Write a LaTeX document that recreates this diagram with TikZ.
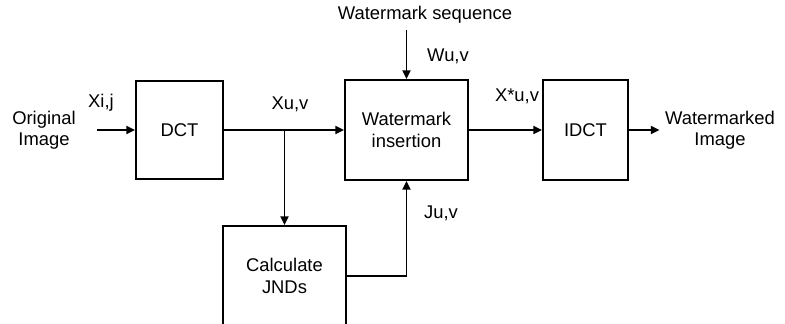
\documentclass[tikz,border=0pt]{standalone}
\usepackage{fontspec}
\setmainfont{Liberation Sans}
\usetikzlibrary{arrows.meta}
\definecolor{wmink}{HTML}{000000}

\begin{document}
\begin{tikzpicture}[x=0.75pt, y=-0.75pt, line cap=butt,
    font=\fontsize{13.8}{16}\selectfont,
    blk/.style={draw=wmink, line width=1.4pt, inner sep=0pt},
    txt/.style={align=center, inner sep=4pt},
    arr/.style={wmink, line width=1.4pt, -{Triangle[length=6.5pt, width=6pt]}}]
  \useasboundingbox (0,0) rectangle (785,324);
  \node[blk, minimum width=65.25pt, minimum height=73.5pt] (dct) at (179.5,130) {DCT};
  \node[blk, minimum width=92.25pt, minimum height=75pt, align=center] (wmins) at (406.5,130) {Watermark\\insertion};
  \node[blk, minimum width=63.75pt, minimum height=75pt] (idct) at (585.5,130) {IDCT};
  \node[blk, minimum width=92.25pt, minimum height=75pt, align=center] (jnd) at (284.5,276) {Calculate\\JNDs};
  \node[txt] (orig) at (44,130) {Original\\Image};
  \node[txt] (wmimg) at (720,130) {Watermarked\\Image};
  \node[txt] (wseq) at (425,15) {Watermark sequence};
  \node[txt] (xij) at (101,103) {Xi,j};
  \node[txt] (xuv) at (290,104) {Xu,v};
  \node[txt] (wuv) at (448,56) {Wu,v};
  \node[txt] (xsuv) at (517,96) {X*u,v};
  \node[txt] (juv) at (441,213) {Ju,v};
  \draw[arr, shorten <=12pt] (orig) -- (dct);
  \draw[arr] (dct) -- (wmins);
  \draw[arr] (dct.east -| jnd.north) -- (jnd.north);
  \draw[arr] (wmins.north |- 0,30) -- (wmins.north);
  \draw[arr] (jnd.east) -| (wmins.south);
  \draw[arr] (wmins) -- (idct);
  \draw[arr] (idct) -- (wmimg);
\end{tikzpicture}
\end{document}
